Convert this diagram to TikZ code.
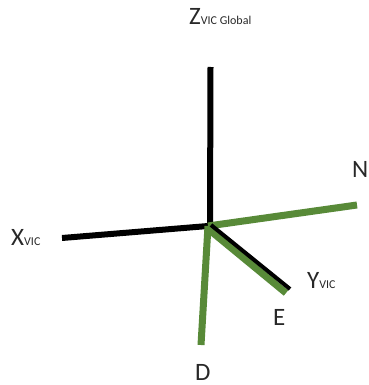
\documentclass[tikz,border=0pt]{standalone}
\usepackage{fontspec}
\setmainfont{Carlito}
\definecolor{axgreen}{RGB}{88,138,56}
\definecolor{txt}{RGB}{40,40,40}
\begin{document}
\begin{tikzpicture}[x=1pt,y=-1pt,
  lbl/.style={inner sep=0pt,anchor=base west,text=txt,font=\fontsize{25}{25}\selectfont},
  blackax/.style={line width=6pt,black},
  greenax/.style={line width=7pt,axgreen}]
\useasboundingbox (0,0) rectangle (368,385);
\coordinate (O) at (208,226);
\coordinate (Zbot) at (210,226);
\coordinate (Ztop) at (210.5,67);
\coordinate (Xend) at (62,238);
\coordinate (Nend) at (357,205);
\coordinate (Dend) at (201,345);
\coordinate (Es) at (207,228);
\coordinate (Eend) at (286,293);
\coordinate (Ys) at (211,225);
\coordinate (Yend) at (290,289);
\draw[blackax] (Ztop) -- (Zbot);
\draw[blackax] (Xend) -- (O);
\draw[greenax] (O) -- (Nend);
\draw[greenax] (O) -- (Dend);
\draw[greenax] (Es) -- (Eend);
\draw[line width=4pt,black] (Ys) -- (Yend);
\node[lbl] (Z) at (189,25) {Z{\fontsize{12}{12}\selectfont VIC Global}};
\node[lbl] (X) at (11,245) {X{\fontsize{12}{12}\selectfont VIC}};
\node[lbl] (Y) at (307,288) {Y{\fontsize{12}{12}\selectfont VIC}};
\node[lbl] (N) at (352,177) {N};
\node[lbl] (E) at (273,325) {E};
\node[lbl] (D) at (195,380) {D};
\end{tikzpicture}
\end{document}
